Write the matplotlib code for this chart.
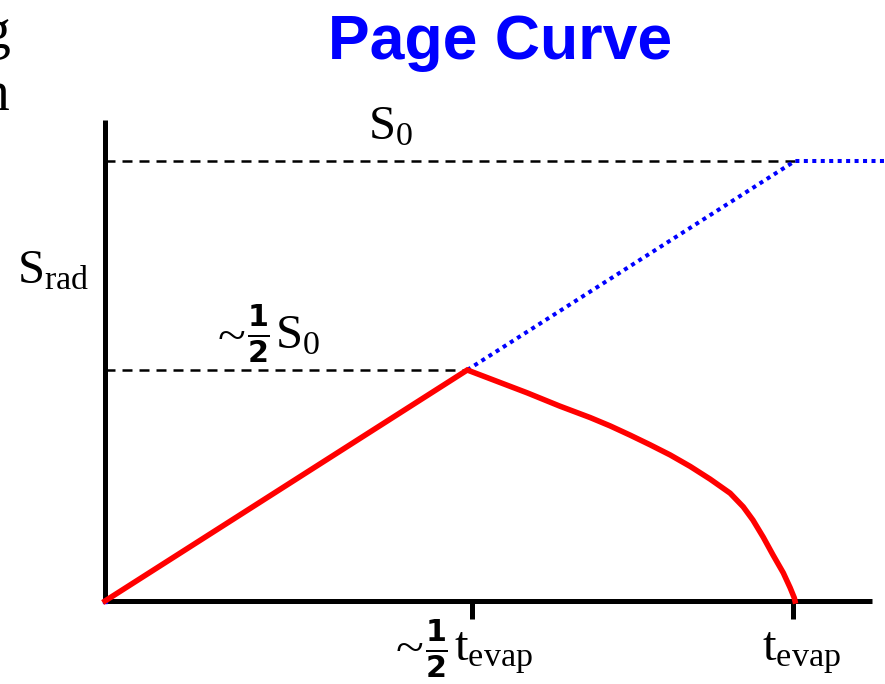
import numpy as np
import matplotlib
matplotlib.use("Agg")
import matplotlib.pyplot as plt

plt.rcParams['mathtext.fontset'] = 'custom'
plt.rcParams['mathtext.rm'] = 'Liberation Serif'
plt.rcParams['mathtext.it'] = 'Liberation Serif:italic'
plt.rcParams['mathtext.sf'] = 'DejaVu Sans:bold'

# time in units of t_evap, entropy in units of S0
t_page, s_page = 0.525, 0.525
rise_t = [0.0, t_page]
rise_s = [0.0, s_page]
fall_t = [0.525, 0.612, 0.659, 0.703, 0.732, 0.761, 0.790, 0.819, 0.848, 0.877,
          0.906, 0.925, 0.939, 0.954, 0.968, 0.983, 0.993, 0.999, 1.0]
fall_s = [0.525, 0.473, 0.443, 0.417, 0.398, 0.377, 0.355, 0.332, 0.306, 0.277,
          0.245, 0.214, 0.184, 0.145, 0.105, 0.064, 0.030, 0.007, 0.0]
hawking_t = [t_page, 1.0, 1.14]
hawking_s = [s_page, 1.0, 1.0]
tick_pos = [0.532, 0.997]

# pixel layout: origin at (105, 601), 690 px per t_evap, 440 px per S0
W, H = 885, 684
x0, y0, sx, sy = 105, 601, 690.0, 440.0

def px(x, y):
    return (x - x0) / sx, (y0 - y) / sy

fig = plt.figure(figsize=(W / 100, H / 100), dpi=100)
ax = fig.add_axes([0, 0, 1, 1])
ax.set_xlim(-x0 / sx, (W - x0) / sx)
ax.set_ylim(-(H - y0) / sy, y0 / sy)
ax.axis('off')

# axes
ax.plot([0, 0], [0, 1.093], color='black', lw=3.6, solid_capstyle='butt')
ax.plot([0, 1.112], [0, 0], color='black', lw=3.6, solid_capstyle='butt')
for tp in tick_pos:
    ax.plot([tp, tp], [0, -0.04], color='black', lw=3.6, solid_capstyle='butt')

# dashed reference lines
ax.plot([0, 1.0], [1.0, 1.0], color='black', lw=1.8, dashes=(4, 2.8))
ax.plot([0, t_page], [s_page, s_page], color='black', lw=1.8, dashes=(4, 2.8))

# Hawking curve (dotted blue) and Page curve (red)
ax.plot(hawking_t, hawking_s, color='blue', lw=2.9, ls=(0, (1, 1.1)))
ax.plot([0], [0], marker='s', ms=3, color='blue')
ax.plot(rise_t + fall_t[1:], rise_s + fall_s[1:], color='red', lw=4,
        solid_joinstyle='miter')

fs = 35
serif = 'Liberation Serif'
half = r'$\frac{\mathsf{1}}{\mathsf{2}}$'
ax.text(*px(368, 139), r'$\mathrm{S}_0$', fontsize=fs, ha='left', va='baseline')
ax.text(*px(17, 283), r'$\mathrm{S}_{\mathrm{rad}}$', fontsize=fs, ha='left', va='baseline')

# ~1/2 S0
ax.text(*px(218, 351), '~', fontsize=37, family=serif, ha='left', va='baseline')
ax.text(*px(258, 335), half, fontsize=31, ha='center', va='center')
ax.text(*px(275, 348), r'$\mathrm{S}_0$', fontsize=fs, ha='left', va='baseline')

# ~1/2 t_evap
ax.text(*px(396, 663), '~', fontsize=37, family=serif, ha='left', va='baseline')
ax.text(*px(436, 650), half, fontsize=31, ha='center', va='center')
ax.text(*px(454, 660), r'$\mathrm{t}_{\mathrm{evap}}$', fontsize=fs, ha='left', va='baseline')

ax.text(*px(762, 660), r'$\mathrm{t}_{\mathrm{evap}}$', fontsize=fs, ha='left', va='baseline')

# cut-off words from the slide on the left
ax.text(*px(10, 48), 'g', fontsize=40, family=serif, ha='right', va='baseline')
ax.text(*px(9, 110), 'n', fontsize=40, family=serif, ha='right', va='baseline')

ax.text(*px(500, 59), 'Page Curve', fontsize=45, color='blue',
        fontweight='bold', family='Liberation Sans', ha='center', va='baseline')

fig.savefig('out.png', dpi=100)
